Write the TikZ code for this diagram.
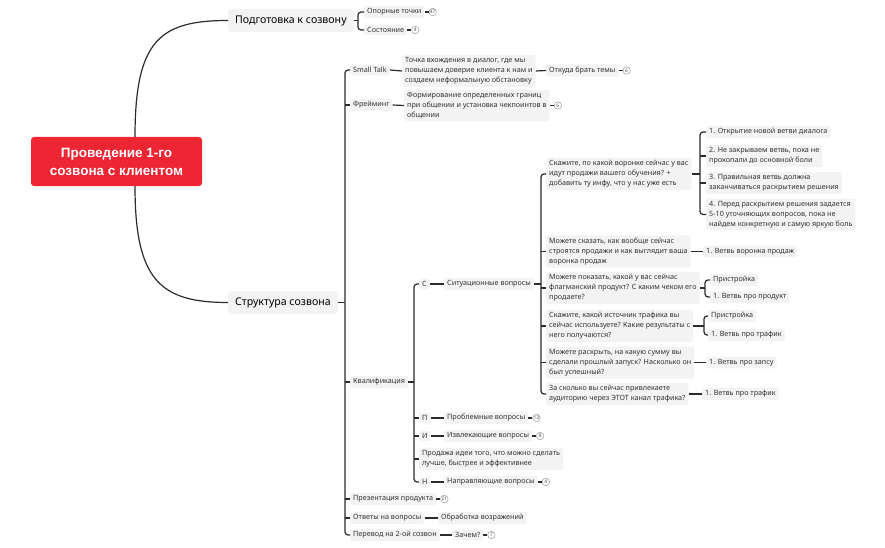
\documentclass[tikz,border=0pt]{standalone}
\usepackage{fontspec}
\setmainfont{Noto Sans}
\newfontfamily\rootfont{Liberation Sans}
\definecolor{linec}{HTML}{2B2B2B}
\definecolor{boxc}{HTML}{F3F3F3}
\definecolor{txtc}{HTML}{333333}
\definecolor{rootred}{HTML}{EE2533}
\begin{document}
\begin{tikzpicture}[x=1pt,y=-1pt,
  conn/.style={draw=linec, line width=1.2pt},
  rc/.style={conn, rounded corners=3pt},
  sm/.style={fill=boxc, rounded corners=2pt, inner xsep=3pt, inner ysep=2.5pt, anchor=west, font=\fontsize{7.2}{10}\selectfont, align=left, text=txtc},
  lv1/.style={fill=boxc, rounded corners=3pt, inner xsep=7pt, inner ysep=5pt, minimum height=23pt, anchor=west, font=\fontsize{10.6}{12}\selectfont, text=black},
  badge/.style={circle, draw=gray!80, line width=0.5pt, minimum size=7.5pt, inner sep=0pt, font=\fontsize{4.8}{5}\selectfont, text=gray!60!black, anchor=west, fill=white},
]
\useasboundingbox (0,0) rectangle (885,548);

% root
\node[fill=rootred, rounded corners=3pt, text=white, font=\rootfont\bfseries\fontsize{13.5}{18}\selectfont, align=center, minimum width=171pt, minimum height=49pt] (root) at (116.5,161.5) {Проведение 1-го\\созвона с клиентом};

% level 1
\node[lv1] (prep) at (228,20.5) {Подготовка к созвону};
\node[lv1] (struct) at (228,302.5) {Структура созвона};
\draw[conn] ([xshift=18.5pt]root.north) .. controls (135,40) and (160,20.5) .. (prep.west);
\draw[conn] ([xshift=18.5pt]root.south) .. controls (135,280) and (160,302.5) .. (struct.west);

% preparation
\node[sm] (op) at (364,12) {Опорные точки};
\node[badge] (opb) at ([xshift=4pt]op.east) {47};
\node[sm] (sost) at (364,30) {Состояние};
\node[badge] (sostb) at ([xshift=4pt]sost.east) {4};
\draw[conn] (op.east) -- (opb.west);
\draw[conn] (sost.east) -- (sostb.west);
\coordinate (jprep) at (358,20.5);
\draw[conn] (prep.east) -- (jprep);
\draw[rc] (jprep) |- (op.west);
\draw[rc] (jprep) |- (sost.west);

% structure children
\node[sm] (st) at (350,70) {Small Talk};
\node[sm] (tochka) at (402,71) {Точка вхождения в диалог, где мы\\повышаем доверие клиента к нам и\\создаем неформальную обстановку};
\node[sm] (otkuda) at (546,70.5) {Откуда брать темы};
\node[badge] (otkudab) at ([xshift=4pt]otkuda.east) {6};
\draw[conn] (st.east) -- (tochka.west);
\draw[conn] (tochka.east) -- (otkuda.west);
\draw[conn] (otkuda.east) -- (otkudab.west);

\node[sm] (fr) at (350,105) {Фрейминг};
\node[sm] (formir) at (404,105.5) {Формирование определенных границ\\при общении и установка чекпоинтов в\\общении};
\node[badge] (formirb) at ([xshift=4pt]formir.east) {6};
\draw[conn] (fr.east) -- (formir.west);
\draw[conn] (formir.east) -- (formirb.west);

\node[sm] (kval) at (350,382) {Квалификация};
\node[sm] (pres) at (350,499) {Презентация продукта};
\node[badge] (presb) at ([xshift=4pt]pres.east) {21};
\draw[conn] (pres.east) -- (presb.west);
\node[sm] (otv) at (350,518) {Ответы на вопросы};
\node[sm] (obr) at (438,518) {Обработка возражений};
\draw[conn] (otv.east) -- (obr.west);
\node[sm] (perev) at (350,535) {Перевод на 2-ой созвон};
\node[sm] (zach) at (452,535) {Зачем?};
\node[badge] (zachb) at ([xshift=4pt]zach.east) {7};
\draw[conn] (perev.east) -- (zach.west);
\draw[conn] (zach.east) -- (zachb.west);

\coordinate (jst) at (345,302.5);
\draw[conn] (struct.east) -- (jst);
\draw[rc] (jst) |- (st.west);
\draw[rc] (jst) |- (perev.west);
\draw[conn] (fr.west) -- (fr.west -| jst);
\draw[conn] (kval.west) -- (kval.west -| jst);
\draw[conn] (pres.west) -- (pres.west -| jst);
\draw[conn] (otv.west) -- (otv.west -| jst);

% qualification
\node[sm] (c) at (419,284) {С};
\node[sm] (sit) at (444,284) {Ситуационные вопросы};
\draw[conn] (c.east) -- (sit.west);
\node[sm] (p) at (419,418) {П};
\node[sm] (prob) at (444,418) {Проблемные вопросы};
\node[badge] (probb) at ([xshift=4pt]prob.east) {13};
\draw[conn] (p.east) -- (prob.west);
\draw[conn] (prob.east) -- (probb.west);
\node[sm] (i) at (419,436) {И};
\node[sm] (izv) at (444,436) {Извлекающие вопросы};
\node[badge] (izvb) at ([xshift=4pt]izv.east) {8};
\draw[conn] (i.east) -- (izv.west);
\draw[conn] (izv.east) -- (izvb.west);
\node[sm] (prod) at (419,459) {Продажа идеи того, что можно сделать\\лучше, быстрее и эффективнее};
\node[sm] (n) at (419,482) {Н};
\node[sm] (napr) at (444,482) {Направляющие вопросы};
\node[badge] (naprb) at ([xshift=4pt]napr.east) {4};
\draw[conn] (n.east) -- (napr.west);
\draw[conn] (napr.east) -- (naprb.west);

\coordinate (jk) at (414,382);
\draw[conn] (kval.east) -- (jk);
\draw[rc] (jk) |- (c.west);
\draw[rc] (jk) |- (n.west);
\draw[conn] (p.west) -- (p.west -| jk);
\draw[conn] (i.west) -- (i.west -| jk);
\draw[conn] (prod.west) -- (prod.west -| jk);

% situational questions
\node[sm] (q1) at (546,174) {Скажите, по какой воронке сейчас у вас\\идут продажи вашего обучения? +\\добавить ту инфу, что у нас уже есть};
\node[sm] (q2) at (546,251.5) {Можете сказать, как вообще сейчас\\строятся продажи и как выглядит ваша\\воронка продаж};
\node[sm] (q3) at (546,288) {Можете показать, какой у вас сейчас\\флагманский продукт? С каким чеком его\\продаете?};
\node[sm] (q4) at (546,326) {Скажите, какой источник трафика вы\\сейчас используете? Какие результаты с\\него получаются?};
\node[sm] (q5) at (546,362.5) {Можете раскрыть, на какую сумму вы\\сделали прошлый запуск? Насколько он\\был успешный?};
\node[sm] (q6) at (546,394) {За сколько вы сейчас привлекаете\\аудиторию через ЭТОТ канал трафика?};

\coordinate (jsit) at (541,284);
\draw[conn] (sit.east) -- (jsit);
\draw[rc] (jsit) |- (q1.west);
\draw[rc] (jsit) |- (q6.west);
\draw[conn] (q2.west) -- (q2.west -| jsit);
\draw[conn] (q3.west) -- (q3.west -| jsit);
\draw[conn] (q4.west) -- (q4.west -| jsit);
\draw[conn] (q5.west) -- (q5.west -| jsit);

% q1 children
\node[sm] (a1) at (706,132) {1. Открытие новой ветви диалога};
\node[sm] (a2) at (706,156) {2. Не закрываем ветвь, пока не\\прокопали до основной боли};
\node[sm] (a3) at (706,183) {3. Правильная ветвь должна\\заканчиваться раскрытием решения};
\node[sm] (a4) at (706,214.5) {4. Перед раскрытием решения задается\\5-10 уточняющих вопросов, пока не\\найдем конкретную и самую яркую боль};
\coordinate (jq1) at (700,174);
\draw[conn] (q1.east) -- (jq1);
\draw[rc] (jq1) |- (a1.west);
\draw[rc] (jq1) |- (a4.west);
\draw[conn] (a2.west) -- (a2.west -| jq1);
\draw[conn] (a3.west) -- (a3.west -| jq1);

% q2
\node[sm] (b1) at (703,251.5) {1. Ветвь воронка продаж};
\draw[conn] (q2.east) -- (b1.west);

% q3
\node[sm] (c1) at (710,280) {Пристройка};
\node[sm] (c2) at (710,297) {1. Ветвь про продукт};
\coordinate (jq3) at (705,288);
\draw[conn] (q3.east) -- (jq3);
\draw[rc] (jq3) |- (c1.west);
\draw[rc] (jq3) |- (c2.west);

% q4
\node[sm] (d1) at (708,316) {Пристройка};
\node[sm] (d2) at (708,335) {1. Ветвь про трафик};
\coordinate (jq4) at (704,326);
\draw[conn] (q4.east) -- (jq4);
\draw[rc] (jq4) |- (d1.west);
\draw[rc] (jq4) |- (d2.west);

% q5, q6
\node[sm] (e1) at (706,362.5) {1. Ветвь про запсу};
\draw[conn] (q5.east) -- (e1.west);
\node[sm] (f1) at (702,394) {1. Ветвь про трафик};
\draw[conn] (q6.east) -- (f1.west);
\end{tikzpicture}
\end{document}
